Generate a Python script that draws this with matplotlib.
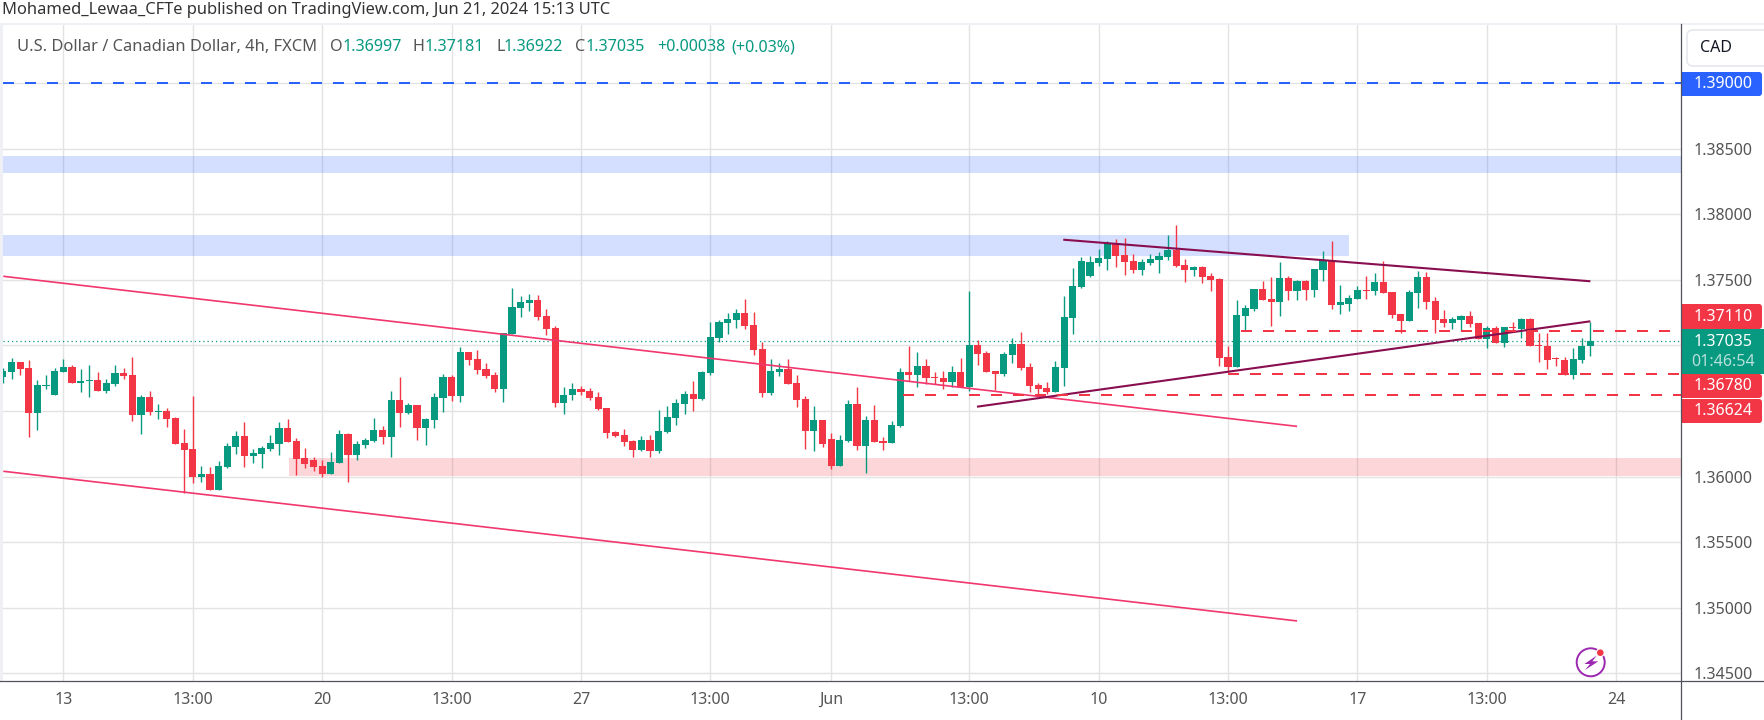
import numpy as np
import matplotlib
matplotlib.use("Agg")
import matplotlib.pyplot as plt
from matplotlib.patches import Rectangle, FancyBboxPatch, Circle, Polygon

plt.rcParams['font.family'] = ['Noto Sans', 'DejaVu Sans']

# Prices in 1e-5 units, one entry per 4h bar
opens = [
136759,136797,136873,136827,136484,136690,136622,136797,136835,136713,
136728,136736,136652,136705,136789,136774,136469,136606,136492,136500,
136446,136256,136210,135997,136020,135898,136073,136225,136309,136157,
136172,136210,136248,136370,136271,136141,136126,136081,136020,136103,
136324,136164,136241,136271,136355,136301,136583,136484,136545,136370,
136431,136599,136759,136614,136949,136896,136820,136774,136667,137086,
137284,137323,137345,137224,137132,136561,136622,136667,136652,136606,
136522,136340,136317,136271,136202,136279,136195,136340,136446,136553,
136629,136591,136789,137056,137170,137193,137246,137155,136972,136637,
136797,136820,136713,136591,136347,136431,136286,136081,136271,136553,
136233,136431,136271,136256,136385,136797,136774,136843,136759,136751,
136721,136797,136682,137003,136942,136804,136782,136926,137010,136835,
136698,136675,136644,136827,137208,137445,137528,137627,137658,137780,
137688,137643,137574,137627,137650,137673,137726,137612,137574,137597,
137528,137505,136911,136835,137224,137277,137429,137353,137330,137513,
137414,137490,137422,137574,137650,137307,137315,137353,137422,137414,
137483,137406,137239,137185,137399,137521,137338,137201,137170,137193,
137224,137170,137048,137132,137018,137140,137124,137201,137003,136995,
136903,136888,136774,136888,136997]
highs = [
136825,136903,136873,136888,136736,136774,136827,136896,136850,136820,
136850,136797,136743,136850,136827,136911,136622,136652,136553,136522,
136454,136362,136614,136081,136073,136119,136256,136347,136416,136210,
136233,136317,136416,136439,136294,136218,136149,136126,136187,136355,
136332,136271,136294,136446,136385,136652,136759,136561,136545,136446,
136637,136782,136774,136987,136949,136964,136865,136797,137094,137437,
137376,137391,137384,137277,137147,136682,136713,136690,136675,136644,
136522,136347,136362,136279,136309,136317,136507,136538,136591,136652,
136728,136804,137178,137193,137246,137277,137353,137254,137025,136896,
136865,136896,136774,136614,136538,136431,136332,136317,136583,136682,
136462,136545,136301,136423,136827,136995,136949,136896,136797,136804,
136843,136903,137414,137041,136957,136804,136949,137056,137102,136865,
136713,136721,136881,137376,137589,137673,137681,137734,137795,137810,
137818,137696,137658,137696,137711,137841,137917,137658,137605,137605,
137551,137513,136995,137345,137307,137429,137490,137521,137635,137528,
137498,137498,137582,137719,137795,137460,137384,137452,137528,137551,
137643,137406,137239,137422,137566,137559,137368,137269,137216,137231,
137262,137170,137147,137147,137140,137178,137208,137208,137094,137094,
136911,136911,136980,137056,137181]
lows = [
136710,136743,136774,136301,136355,136667,136622,136797,136713,136644,
136606,136652,136637,136690,136743,136423,136324,136469,136439,136378,
136248,135877,135951,135959,135898,135898,136065,136172,136073,136103,
136065,136195,136164,136263,136012,136065,136042,135997,136020,136103,
135959,136126,136218,136263,136248,136149,136378,136477,136279,136241,
136370,136492,136576,136568,136850,136782,136751,136644,136568,137086,
137216,137262,137193,137079,136530,136477,136583,136622,136583,136507,
136294,136301,136233,136149,136195,136149,136180,136332,136393,136477,
136500,136583,136774,137025,137086,137132,137124,136926,136606,136622,
136766,136705,136530,136210,136195,136225,136058,136081,136263,136202,
136027,136263,136202,136256,136378,136728,136682,136705,136705,136667,
136682,136682,136652,136850,136797,136660,136766,136865,136812,136644,
136629,136629,136644,136690,137086,137437,137521,137605,137574,137597,
137536,137551,137536,137612,137551,137650,137597,137483,137528,137475,
137414,136843,136797,136835,137109,137262,137345,137147,137224,137345,
137345,137345,137368,137490,137277,137239,137262,137353,137353,137384,
137399,137208,137094,137185,137284,137277,137094,137140,137124,137109,
137140,137048,136980,137018,136987,137102,137056,136995,136873,136820,
136843,136774,136743,136865,136922]
closes = [
136804,136873,136820,136484,136698,136698,136804,136835,136713,136728,
136736,136652,136713,136789,136766,136469,136606,136492,136500,136439,
136248,136202,135997,136020,135898,136081,136233,136309,136157,136180,
136218,136256,136370,136263,136134,136096,136073,136020,136111,136324,
136164,136248,136279,136355,136301,136583,136484,136545,136370,136439,
136606,136759,136614,136949,136888,136812,136766,136667,137094,137292,
137330,137345,137216,137124,136561,136622,136667,136644,136599,136515,
136332,136309,136263,136202,136279,136195,136347,136454,136561,136629,
136591,136797,137064,137178,137201,137246,137147,136964,136637,136804,
136820,136705,136583,136347,136431,136248,136081,136279,136553,136233,
136431,136263,136256,136393,136797,136774,136843,136751,136751,136721,
136797,136682,137003,136934,136797,136782,136934,137010,136827,136690,
136667,136644,136835,137216,137452,137643,137635,137665,137780,137681,
137635,137574,137635,137658,137681,137726,137605,137574,137597,137521,
137498,136903,136835,137231,137284,137429,137345,137330,137513,137414,
137490,137422,137582,137650,137307,137330,137361,137422,137414,137483,
137399,137231,137185,137406,137521,137330,137193,137170,137201,137224,
137163,137048,137132,137018,137140,137132,137201,136995,136995,136888,
136896,136774,136896,136995,137035]

x_tick_bars = [7, 22, 37, 52, 67, 82, 96, 112, 127, 142, 157, 172, 187]
x_tick_labels = ['13', '13:00', '20', '13:00', '27', '13:00', 'Jun',
                 '13:00', '10', '13:00', '17', '13:00', '24']
y_ticks = [1.345, 1.35, 1.355, 1.36, 1.365, 1.37, 1.375, 1.38, 1.385, 1.39]
y_hidden = [1.365, 1.37, 1.39]

# Drawings: (bar, price) pairs
channel_upper = ([0.045, 150.0], [1.37526, 1.36382])
channel_lower = ([0.045, 150.0], [1.36040, 1.34899])
wedge_upper = ([122.9, 184.0], [1.37805, 1.37488])
wedge_lower = ([112.9, 184.0], [1.36532, 1.37183])
zones_blue = [(0.045, 194.5, 1.38316, 1.38443), (0.045, 156.0, 1.37683, 1.37841)]
zones_pink = [(33.2, 194.5, 1.36002, 1.36141)]
levels_red = [(143.5, 1.37110), (142.0, 1.36780), (104.3, 1.36624)]
level_blue = 1.39
last_price = 1.37035

GREEN, RED, BLUE = '#089981', '#F23645', '#2962FF'
PINK, PURPLE = '#F2366E', '#880E4F'
GRID, AXIS, TEXT = '#E3E3E3', '#50535E', '#555555'
W, H = 1764, 720
XL, XR, YT, YB = 3.3, 1681.0, 24.0, 681.3

o, h, l, c = [np.array(a) / 1e5 for a in (opens, highs, lows, closes)]
bars = np.arange(len(o))
up = c >= o
cols = np.where(up, GREEN, RED)

fig = plt.figure(figsize=(W / 100, H / 100), dpi=100, facecolor='white')
ax = fig.add_axes([XL / W, 1 - YB / H, (XR - XL) / W, (YB - YT) / H])
ax.set_xlim(0.045, 194.5)
ax.set_ylim(1.34439, 1.39449)
for s in ax.spines.values():
    s.set_visible(False)
ax.set_axisbelow(True)
ax.grid(True, color=GRID, lw=1.0)
ax.set_xticks(x_tick_bars)
ax.set_xticklabels(x_tick_labels, color=TEXT, fontsize=11.5)
ax.set_yticks(y_ticks)
ax.set_yticklabels(['' if t in y_hidden else f'{t:.5f}' for t in y_ticks], color=TEXT, fontsize=11.5)
ax.yaxis.tick_right()
ax.tick_params(axis='both', length=0)
ax.tick_params(axis='y', pad=9.2)
ax.tick_params(axis='x', pad=7.5)

for x0, x1, p0, p1 in zones_blue:
    ax.add_patch(Rectangle((x0, p0), x1 - x0, p1 - p0, fc='#2962FF', alpha=0.2, ec='none', zorder=1))
for x0, x1, p0, p1 in zones_pink:
    ax.add_patch(Rectangle((x0, p0), x1 - x0, p1 - p0, fc='#F23645', alpha=0.2, ec='none', zorder=1))

ax.axhline(last_price, color=GREEN, lw=0.9, ls=(0, (1, 2.4)), zorder=2)
ax.vlines(bars, l, h, colors=cols, lw=1.0, zorder=3)
ax.bar(bars, np.abs(c - o), bottom=np.minimum(o, c), width=0.83, color=cols, lw=0, zorder=4)

for xs, ys in (channel_upper, channel_lower):
    ax.plot(xs, ys, color=PINK, lw=1.2, zorder=5, solid_capstyle='butt')
for xs, ys in (wedge_upper, wedge_lower):
    ax.plot(xs, ys, color=PURPLE, lw=1.5, zorder=5, solid_capstyle='butt')
for x0, p in levels_red:
    ax.plot([x0, 194.5], [p, p], color=RED, lw=1.44, ls=(0, (5.5, 5.5)), zorder=5)
ax.axhline(level_blue, color=BLUE, lw=1.44, ls=(0, (5.5, 5.5)), zorder=5)

# Pixel-space chrome
ov = fig.add_axes([0, 0, 1, 1], facecolor='none', zorder=10)
ov.set_xlim(0, W)
ov.set_ylim(H, 0)
ov.axis('off')
ov.add_patch(Rectangle((0, 23), W, 2, fc='#EEF0F6', ec='none'))
ov.add_patch(Rectangle((0, 24), 3, YB - 24, fc='#EEF0F6', ec='none'))
ov.plot([0, W], [YB, YB], color=AXIS, lw=0.9)
ov.plot([XR, XR], [24, H], color=AXIS, lw=0.9)


def tag(y0, y1, col, x1=1762):
    ov.add_patch(FancyBboxPatch((1690, y0), x1 - 1690, y1 - y0,
                                boxstyle='round,pad=0,rounding_size=3', fc=col, ec='none'))
    ov.add_patch(Rectangle((XR, y0), 20, y1 - y0, fc=col, ec='none'))


def tagtext(y, s, alpha=1.0):
    ov.text(1723, y, s, color='white', alpha=alpha, fontsize=11.5, fontweight='medium', ha='center', va='center')


tag(72, 96, BLUE)
tagtext(84, '1.39000')
tag(304, 329, RED)
tagtext(317, '1.37110')
tag(374, 398, RED)
tagtext(386, '1.36780')
tag(399, 423, RED)
tagtext(411, '1.36624')
ov.add_patch(Rectangle((XR, 329), W - XR, 45, fc=GREEN, ec='none'))
tagtext(342, '1.37035')
tagtext(362, '01:46:54', alpha=0.7)

ov.add_patch(FancyBboxPatch((1687, 30), 100, 36, boxstyle='round,pad=0,rounding_size=6',
                            fc='white', ec='#E0E3EB', lw=1))
ov.text(1700, 48, 'CAD', color='#131722', fontsize=11.5, ha='left', va='center')

ov.text(2, 10, 'Mohamed_Lewaa_CFTe published on TradingView.com, Jun 21, 2024 15:13 UTC',
        color='#333333', fontsize=11.85, ha='left', va='center')

ov.text(17, 47, 'U.S. Dollar / Canadian Dollar, 4h, FXCM', color=TEXT, fontsize=11.9, ha='left', va='center')
for x, s, col in [(330, 'O', TEXT), (343, '1.36997', GREEN), (413, 'H', TEXT), (425, '1.37181', GREEN),
                  (496, 'L', TEXT), (504, '1.36922', GREEN), (575, 'C', TEXT), (586, '1.37035', GREEN),
                  (657, '+0.00038', GREEN), (731, '(+0.03%)', GREEN)]:
    ov.text(x, 47, s, color=col, fontsize=11.6, ha='left', va='center')

# Snapshot badge
ov.add_patch(Circle((1590.7, 662.3), 14, fc='white', ec='#9C27B0', lw=1.4))
ov.add_patch(Circle((1600.3, 652.7), 4.5, fc='white', ec='none'))
ov.add_patch(Circle((1600.3, 652.7), 3.3, fc=RED, ec='none'))
bolt = np.array([(770, 347), (733, 372), (750, 372), (735, 390), (775, 364), (757, 364)], float)
bolt = bolt / 3 + np.array([1340, 540])
ov.add_patch(Polygon(bolt, closed=True, fc='#9C27B0', ec='none'))

fig.savefig('out.png', dpi=100)
